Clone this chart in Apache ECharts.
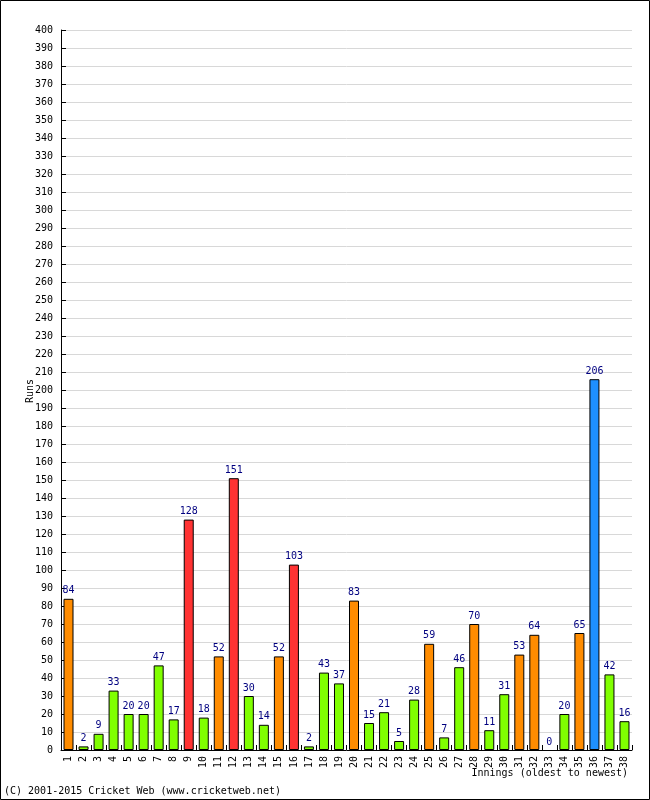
<!DOCTYPE html>
<html><head><meta charset="utf-8">
<script src="https://cdn.jsdelivr.net/npm/echarts@6/dist/echarts.min.js"></script>
<style>html,body{margin:0;padding:0;background:#fff}#c{width:650px;height:800px}</style>
</head><body><div id="c"></div>
<script>
const innings = ['1','2','3','4','5','6','7','8','9','10','11','12','13','14','15','16','17','18','19','20','21','22','23','24','25','26','27','28','29','30','31','32','33','34','35','36','37','38'];
const runs = [84,2,9,33,20,20,47,17,128,18,52,151,30,14,52,103,2,43,37,83,15,21,5,28,59,7,46,70,11,31,53,64,0,20,65,206,42,16];
const yTicks = {min:0, max:400, interval:10};
const FONT = '"DejaVu Sans Mono", "Liberation Mono", monospace';
function colorFor(v){ if(v>=200) return '#1e90ff'; if(v>=100) return '#ff3333'; if(v>=50) return '#ff8c00'; return '#80ff00'; }
const chart = echarts.init(document.getElementById('c'));
chart.setOption({
  animation:false,
  backgroundColor:'#fff',
  grid:{left:61,right:18,top:30,bottom:50,containLabel:false,outerBoundsMode:'none'},
  xAxis:{type:'category',data:innings,
    axisLine:{lineStyle:{color:'#000',width:1}},
    axisTick:{show:true,inside:true,length:5,interval:0,lineStyle:{color:'#000'}},
    axisLabel:{rotate:90,interval:0,fontFamily:FONT,fontSize:10,color:'#000',margin:6}
  },
  yAxis:{type:'value',min:yTicks.min,max:yTicks.max,interval:yTicks.interval,
    axisLine:{show:true,lineStyle:{color:'#000'}},
    axisTick:{show:true,inside:true,length:5,lineStyle:{color:'#000'}},
    axisLabel:{fontFamily:FONT,fontSize:10,color:'#000',margin:8},
    splitLine:{lineStyle:{color:'#d8d8d8'}}
  },
  series:[{type:'bar',barWidth:10,
    data:runs.map(v=>({value:v,itemStyle:{color:colorFor(v),borderColor:'#000',borderWidth:v===0?0:1}})),
    label:{show:true,position:'top',distance:3,fontFamily:FONT,fontSize:10,color:'#000080'}
  }],
  graphic:[
    {type:'rect',shape:{x:0.5,y:0.5,width:649,height:799},style:{fill:null,stroke:'#000',lineWidth:1},silent:true},
    {type:'text',x:30,y:391,rotation:Math.PI/2,style:{text:'Runs',font:'10px '+FONT,fill:'#000',align:'center',verticalAlign:'middle'}},
    {type:'text',left:4,top:786,style:{text:'(C) 2001-2015 Cricket Web (www.cricketweb.net)',font:'10px '+FONT,fill:'#000'}},
    {type:'text',right:22,top:768,style:{text:'Innings (oldest to newest)',font:'10px '+FONT,fill:'#000'}}
  ]
});
</script></body></html>
